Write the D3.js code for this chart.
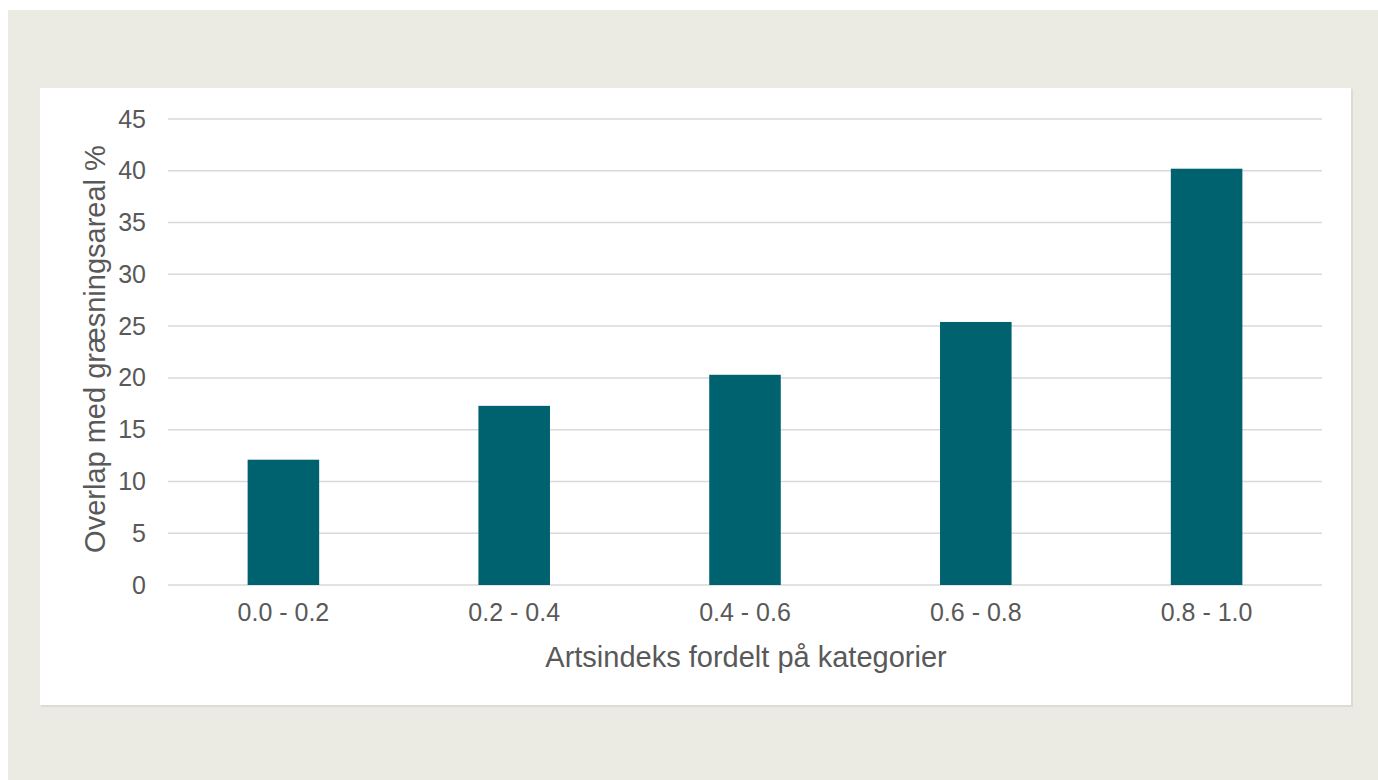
<!DOCTYPE html>
<html>
<head>
<meta charset="utf-8">
<script src="https://cdn.jsdelivr.net/npm/d3@7"></script>
<style>
  html, body { margin: 0; padding: 0; background: #ffffff; }
  svg { display: block; }
  text { font-family: "Liberation Sans", Arial, sans-serif; }
</style>
</head>
<body>
<svg id="chart" width="1378" height="780"></svg>
<script>
// Andel af overlap med græsningsareal pr. artsindeks-kategori
const categories = ["0.0 - 0.2", "0.2 - 0.4", "0.4 - 0.6", "0.6 - 0.8", "0.8 - 1.0"];
const overlapPct = [12.1, 17.3, 20.3, 25.4, 40.2];
const yTicks = [0, 5, 10, 15, 20, 25, 30, 35, 40, 45];
const yTitle = "Overlap med græsningsareal %";
const xTitle = "Artsindeks fordelt på kategorier";

const svg = d3.select("#chart");

// backdrop and card
svg.append("rect").attr("x", 8).attr("y", 10).attr("width", 1370).attr("height", 770).attr("fill", "#ebeae3");
svg.append("rect").attr("x", 41).attr("y", 89).attr("width", 1312).attr("height", 618).attr("fill", "#dcdbd4");
svg.append("rect").attr("x", 40).attr("y", 88).attr("width", 1311).attr("height", 617).attr("fill", "#ffffff");

const plot = { left: 168, right: 1322, top: 119, bottom: 585 };

const x = d3.scaleBand()
  .domain(categories)
  .range([plot.left, plot.right])
  .paddingInner(0.69)
  .paddingOuter(0.345);

const y = d3.scaleLinear().domain([0, 45]).range([plot.bottom, plot.top]);

// gridlines
svg.append("g")
  .selectAll("line")
  .data(yTicks)
  .join("line")
  .attr("x1", plot.left).attr("x2", plot.right)
  .attr("y1", d => y(d)).attr("y2", d => y(d))
  .attr("stroke", "#d9d9d9").attr("stroke-width", 1.5);

// y tick labels
const yAxis = svg.append("g")
  .attr("transform", `translate(${plot.left},0)`)
  .call(d3.axisLeft(y).tickValues(yTicks).tickSize(0).tickPadding(22));
yAxis.select(".domain").remove();
yAxis.selectAll("text")
  .attr("fill", "#595959")
  .style("font-size", "25px")
  .style("font-family", "'Liberation Sans', Arial, sans-serif");

// bars
svg.append("g")
  .selectAll("rect")
  .data(categories.map((c, i) => ({ c, v: overlapPct[i] })))
  .join("rect")
  .attr("x", d => x(d.c))
  .attr("y", d => y(d.v))
  .attr("width", x.bandwidth())
  .attr("height", d => y(0) - y(d.v))
  .attr("fill", "#00626f");

// x tick labels
const xAxis = svg.append("g")
  .attr("transform", `translate(0,${plot.bottom})`)
  .call(d3.axisBottom(x).tickSize(0).tickPadding(18));
xAxis.select(".domain").remove();
xAxis.selectAll("text")
  .attr("fill", "#595959")
  .style("font-size", "25px")
  .style("font-family", "'Liberation Sans', Arial, sans-serif");

// axis titles
svg.append("text")
  .attr("x", (plot.left + plot.right) / 2 + 1)
  .attr("y", 667)
  .attr("text-anchor", "middle")
  .attr("fill", "#595959")
  .style("font-size", "29px")
  .text(xTitle);

svg.append("text")
  .attr("transform", `translate(105,${(plot.top + plot.bottom) / 2 - 3}) rotate(-90)`)
  .attr("text-anchor", "middle")
  .attr("fill", "#595959")
  .style("font-size", "29px")
  .text(yTitle);
</script>
</body>
</html>
